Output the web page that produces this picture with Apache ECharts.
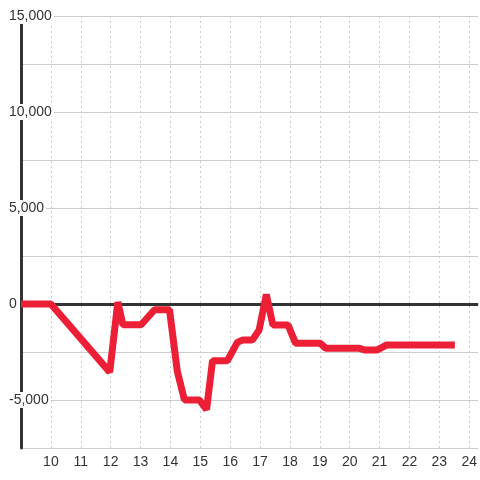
<!DOCTYPE html>
<html>
<head>
<meta charset="utf-8">
<script src="https://cdn.jsdelivr.net/npm/echarts@6/dist/echarts.min.js"></script>
<style>
  html, body { margin: 0; padding: 0; background: #fff; }
  #chart { width: 480px; height: 480px; }
</style>
</head>
<body>
<div id="chart"></div>
<script>
// time of day (hours) and value
var hours = [9, 10, 11.97, 12.24, 12.41, 13.02, 13.47, 13.97, 14.23, 14.47, 14.97, 15.21, 15.41, 15.91,
    16.24, 16.41, 16.74, 16.97, 17.21, 17.43, 17.94, 18.19, 19.02, 19.19, 20.3, 20.52, 20.91, 21.24, 23.52];
var values = [0, 0, -3550, 100, -1080, -1080, -300, -300, -3500, -5000, -5000, -5500, -2950, -2950,
    -2000, -1880, -1880, -1350, 500, -1100, -1100, -2050, -2050, -2300, -2300, -2400, -2400, -2130, -2130];
var yTicks = [-5000, 0, 5000, 10000, 15000];
var xTicks = [10, 11, 12, 13, 14, 15, 16, 17, 18, 19, 20, 21, 22, 23, 24];

var myChart = echarts.init(document.getElementById('chart'));

var points = hours.map(function (h, i) { return [h, values[i]]; });

var option = {
    backgroundColor: '#fff',
    animation: false,
    grid: { left: 21, right: 0, top: 16, bottom: 32 },
    xAxis: {
        type: 'value',
        min: 9,
        max: 24.3,
        interval: 1,
        axisLine: { show: false },
        axisTick: { show: false },
        axisLabel: {
            margin: 7,
            color: '#333',
            fontSize: 14,
            fontFamily: 'Liberation Sans',
            showMaxLabel: false,
            formatter: function (v) {
                return xTicks.indexOf(v) >= 0 ? String(v) : '';
            }
        },
        splitLine: {
            show: true,
            showMinLine: false,
            showMaxLine: false,
            lineStyle: { color: '#ccc', type: [2, 3], width: 1 }
        }
    },
    yAxis: {
        type: 'value',
        min: -7500,
        max: 15000,
        interval: 2500,
        axisLine: { show: true, lineStyle: { color: '#333', width: 3 } },
        axisTick: { show: false },
        axisLabel: {
            align: 'left',
            margin: 14,
            color: '#333',
            fontSize: 14,
            fontFamily: 'Liberation Sans',
            formatter: function (v) {
                // 只显示每5000的刻度
                if (yTicks.indexOf(v) < 0) return '';
                return '{b|' + v.toLocaleString('en-US') + '}';
            },
            rich: {
                b: {
                    backgroundColor: '#fff',
                    padding: [1, 2],
                    color: '#333',
                    fontSize: 14,
                    fontFamily: 'Liberation Sans'
                }
            }
        },
        splitLine: { show: true, lineStyle: { color: '#ccc', width: 1 } }
    },
    series: [
        {
            type: 'line',
            data: points,
            showSymbol: false,
            symbol: 'none',
            lineStyle: { color: '#ed1f37', width: 7, join: 'bevel' },
            markLine: {
                z: 1,
                silent: true,
                symbol: 'none',
                label: { show: false },
                lineStyle: { color: '#333', width: 3, type: 'solid' },
                data: [{ yAxis: 0 }]
            }
        }
    ]
};
myChart.setOption(option);
</script>
</body>
</html>
